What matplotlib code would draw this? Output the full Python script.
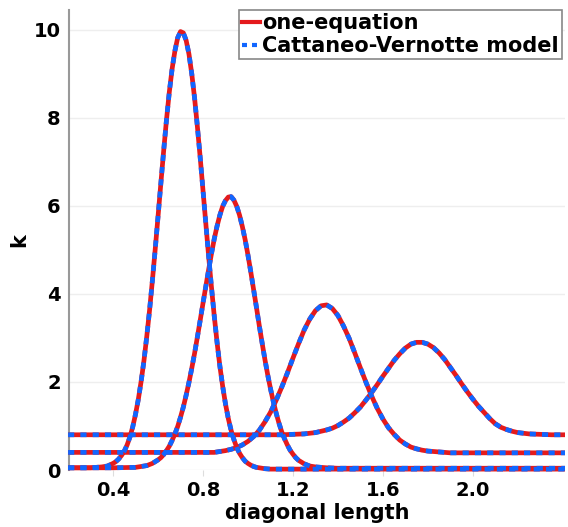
import matplotlib
matplotlib.use("Agg")
import matplotlib.pyplot as plt
from matplotlib.lines import Line2D

# curve A (tallest peak)
xa = [0.20, 0.30, 0.35, 0.375, 0.40, 0.4125, 0.425, 0.4375, 0.45, 0.4625, 0.475, 0.4875,
      0.50, 0.5125, 0.525, 0.5375, 0.55, 0.5625, 0.575, 0.5875, 0.60, 0.6125, 0.625,
      0.6375, 0.65, 0.6625, 0.675, 0.6875, 0.70, 0.7125, 0.725, 0.7375, 0.75, 0.7625,
      0.775, 0.7875, 0.80, 0.8125, 0.825, 0.8375, 0.85, 0.8625, 0.875, 0.8875, 0.90,
      0.9125, 0.925, 0.9375, 0.95, 0.9625, 0.975, 0.9875, 1.00, 1.0125, 1.025, 1.0375,
      1.05, 1.075, 1.10, 2.41]
ka = [0.05, 0.05, 0.07, 0.09, 0.15, 0.19, 0.25, 0.33, 0.43, 0.57, 0.75, 0.98,
      1.27, 1.61, 2.02, 2.49, 3.04, 3.64, 4.31, 5.02, 5.76, 6.51, 7.25,
      7.95, 8.58, 9.11, 9.52, 9.82, 9.96, 9.93, 9.76, 9.45, 9.00, 8.45,
      7.80, 7.10, 6.35, 5.60, 4.86, 4.16, 3.50, 2.90, 2.36, 1.90, 1.50,
      1.17, 0.90, 0.69, 0.51, 0.38, 0.28, 0.20, 0.15, 0.11, 0.08, 0.06,
      0.05, 0.03, 0.02, 0.02]

# curve B
xb = [0.20, 0.40, 0.50, 0.55, 0.575, 0.60, 0.6125, 0.625, 0.6375, 0.65, 0.6625, 0.675,
      0.6875, 0.70, 0.7125, 0.725, 0.7375, 0.75, 0.7625, 0.775, 0.7875, 0.80, 0.8125,
      0.825, 0.8375, 0.85, 0.8625, 0.875, 0.8875, 0.90, 0.9125, 0.925, 0.9375, 0.95,
      0.9625, 0.975, 0.9875, 1.00, 1.0125, 1.025, 1.0375, 1.05, 1.0625, 1.075, 1.0875,
      1.10, 1.1125, 1.125, 1.1375, 1.15, 1.1625, 1.175, 1.1875, 1.20, 1.2125, 1.225,
      1.2375, 1.25, 1.275, 1.30, 1.35, 1.40, 2.41]
kb = [0.05, 0.05, 0.06, 0.10, 0.15, 0.23, 0.28, 0.35, 0.44, 0.54, 0.67, 0.82,
      0.99, 1.20, 1.43, 1.70, 1.99, 2.31, 2.65, 3.02, 3.40, 3.79, 4.17,
      4.55, 4.91, 5.25, 5.54, 5.79, 5.99, 6.12, 6.20, 6.21, 6.13, 5.99,
      5.79, 5.53, 5.23, 4.88, 4.50, 4.10, 3.70, 3.29, 2.90, 2.52, 2.17,
      1.85, 1.56, 1.30, 1.07, 0.87, 0.71, 0.57, 0.45, 0.36, 0.28, 0.22,
      0.18, 0.14, 0.09, 0.07, 0.05, 0.04, 0.04]

# curve C
xc = [0.20, 0.85, 0.875, 0.90, 0.925, 0.95, 0.975, 1.00, 1.025, 1.05, 1.075, 1.10,
      1.125, 1.15, 1.175, 1.20, 1.225, 1.25, 1.275, 1.30, 1.325, 1.35, 1.375, 1.40,
      1.425, 1.45, 1.475, 1.50, 1.525, 1.55, 1.575, 1.60, 1.625, 1.65, 1.675, 1.70,
      1.725, 1.75, 1.775, 1.80, 1.85, 1.90, 2.41]
kc = [0.40, 0.40, 0.42, 0.44, 0.47, 0.51, 0.57, 0.65, 0.76, 0.90, 1.09, 1.31,
      1.58, 1.88, 2.20, 2.54, 2.87, 3.18, 3.43, 3.62, 3.73, 3.75, 3.67, 3.51,
      3.27, 2.99, 2.66, 2.32, 1.99, 1.68, 1.40, 1.16, 0.96, 0.81, 0.68, 0.59,
      0.52, 0.48, 0.45, 0.43, 0.41, 0.39, 0.39]

# curve D
xd = [0.20, 1.15, 1.20, 1.25, 1.30, 1.325, 1.35, 1.375, 1.40, 1.425, 1.45, 1.475,
      1.50, 1.525, 1.55, 1.575, 1.60, 1.625, 1.65, 1.675, 1.70, 1.725, 1.75, 1.775,
      1.80, 1.825, 1.85, 1.875, 1.90, 1.925, 1.95, 1.975, 2.00, 2.025, 2.05, 2.075,
      2.10, 2.125, 2.15, 2.175, 2.20, 2.25, 2.30, 2.35, 2.41]
kd = [0.80, 0.80, 0.81, 0.82, 0.85, 0.88, 0.91, 0.95, 1.01, 1.09, 1.18, 1.30,
      1.43, 1.59, 1.76, 1.94, 2.13, 2.31, 2.49, 2.64, 2.77, 2.86, 2.90, 2.90,
      2.86, 2.78, 2.66, 2.51, 2.33, 2.15, 1.96, 1.78, 1.61, 1.45, 1.31, 1.17,
      1.05, 0.97, 0.92, 0.88, 0.85, 0.82, 0.81, 0.80, 0.80]

curves = [(xa, ka), (xb, kb), (xc, kc), (xd, kd)]
labels = ["one-equation", "Cattaneo-Vernotte model"]
xticks = [0.4, 0.8, 1.2, 1.6, 2.0]
yticks = [0, 2, 4, 6, 8, 10]

red = "#e41a1c"
blue = "#1166ff"

plt.rcParams["font.family"] = "DejaVu Sans"
plt.rcParams["font.weight"] = "bold"

fig = plt.figure(figsize=(5.68, 5.27), dpi=100)
ax = fig.add_axes([69 / 568, 57 / 527, 496 / 568, 460 / 527])

for x, k in curves:
    ax.plot(x, k, color=red, lw=3.4, solid_capstyle="butt", solid_joinstyle="round",
            clip_on=False, zorder=3)
    ax.plot(x, k, color=blue, lw=3.4, dashes=(1.3, 1.3), dash_capstyle="butt",
            dash_joinstyle="round", clip_on=False, zorder=4)

ax.set_xlim(0.204, 2.41)
ax.set_ylim(0, 10.45)
ax.set_xticks(xticks)
ax.set_xticklabels([f"{t:.1f}" for t in xticks])
ax.set_yticks(yticks)
ax.tick_params(axis="x", length=4, color="#dddddd", labelsize=14, pad=4)
ax.tick_params(axis="y", length=0, labelsize=14, pad=6)
ax.grid(axis="y", color="#eeeeee", lw=1)
ax.set_axisbelow(True)
for s in ["top", "right", "bottom"]:
    ax.spines[s].set_visible(False)
ax.spines["left"].set_color("#999999")
ax.spines["left"].set_linewidth(1.5)

ax.set_xlabel("diagonal length", fontsize=15, fontweight="bold", labelpad=2)
ax.set_ylabel("k", fontsize=15, fontweight="bold", labelpad=3)

handles = [Line2D([], [], color=red, lw=3),
           Line2D([], [], color=blue, lw=3, dashes=(1.2, 1.2))]
leg = ax.legend(handles, labels, loc="upper right", bbox_to_anchor=(562 / 568, 1 - 10 / 527),
                bbox_transform=fig.transFigure, borderaxespad=0, fontsize=15,
                handlelength=0.85, handletextpad=0.1, borderpad=0.15, labelspacing=0.15,
                fancybox=False, framealpha=1, edgecolor="#888888")
leg.get_frame().set_linewidth(1.2)
for t in leg.get_texts():
    t.set_fontweight("bold")

fig.savefig("out.png", dpi=100)
